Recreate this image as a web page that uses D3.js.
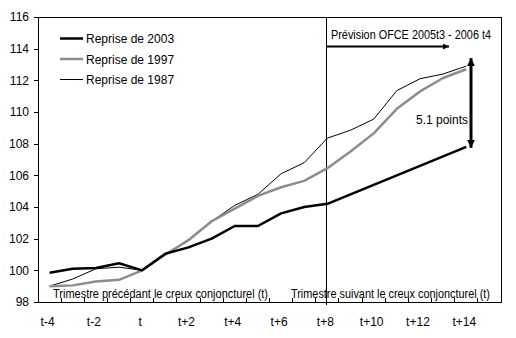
<!DOCTYPE html>
<html><head><meta charset="utf-8">
<script src="https://cdn.jsdelivr.net/npm/d3@7"></script>
<style>
body{margin:0;background:#fff;}
text{font-family:"Liberation Sans",Arial,sans-serif;font-size:12px;fill:#000;}
</style></head>
<body><svg id="c" width="516" height="338"></svg>
<script>
// ---- data ----
const categories = ["t-4","t-3","t-2","t-1","t","t+1","t+2","t+3","t+4","t+5","t+6","t+7","t+8","t+9","t+10","t+11","t+12","t+13","t+14","t+15"];
const xTickLabels = ["t-4","t-2","t","t+2","t+4","t+6","t+8","t+10","t+12","t+14"];
const yTicks = [98,100,102,104,106,108,110,112,114,116];
const seriesNames = ["Reprise de 2003","Reprise de 1997","Reprise de 1987"];
const reprise2003 = [99.85,100.1,100.15,100.45,100.0,101.05,101.45,102.0,102.8,102.8,103.6,104.0,104.2,104.8,105.4,106.0,106.6,107.2,107.8];
const reprise1997 = [99.0,99.05,99.3,99.4,100.0,101.0,101.9,103.1,103.9,104.7,105.25,105.65,106.45,107.5,108.65,110.2,111.3,112.15,112.7];
const reprise1987 = [99.0,99.45,100.1,100.2,100.0,101.0,101.95,103.1,104.1,104.8,106.1,106.8,108.35,108.85,109.55,111.35,112.1,112.4,112.9];
const forecastStart = "t+8";
const forecastLabel = "Prévision OFCE 2005t3 - 2006 t4";
const gapLabel = "5.1 points";
const beforeLabel = "Trimestre précédant le creux conjoncturel (t)";
const afterLabel = "Trimestre suivant le creux conjoncturel (t)";

// ---- layout ----
const L=38, R=501, T=17, B=302;
const svg = d3.select("#c");
const x = d3.scaleBand().domain(categories).range([L,R]).padding(0);
const cx = c => x(c) + x.bandwidth()/2;
const y = d3.scaleLinear().domain([98,116]).range([B,T]);

// defs arrowheads
const defs = svg.append("defs");
defs.append("marker").attr("id","ah").attr("viewBox","0 0 10 10").attr("refX",10).attr("refY",5)
  .attr("markerWidth",4).attr("markerHeight",3).attr("markerUnits","strokeWidth").attr("orient","auto-start-reverse")
  .append("path").attr("d","M0,0L10,5L0,10z").attr("fill","#000");
defs.append("marker").attr("id","ah2").attr("viewBox","0 0 10 10").attr("refX",10).attr("refY",5)
  .attr("markerWidth",2.6).attr("markerHeight",2.6).attr("markerUnits","strokeWidth").attr("orient","auto-start-reverse")
  .append("path").attr("d","M0,0L10,5L0,10z").attr("fill","#000");

// frame
svg.append("rect").attr("x",L).attr("y",T).attr("width",R-L).attr("height",B-T)
  .attr("fill","none").attr("stroke","#000").attr("stroke-width",1).attr("shape-rendering","crispEdges");

// y axis
const yAxis = d3.axisLeft(y).tickValues(yTicks).tickSize(4).tickPadding(6).tickFormat(d3.format("d"));
const gy = svg.append("g").attr("transform",`translate(${L},0)`).call(yAxis);
gy.select(".domain").remove();
gy.selectAll("line").attr("shape-rendering","crispEdges");
gy.selectAll("text").style("font-size","12px").style("font-family","Liberation Sans, Arial, sans-serif").attr("x",-9);

// x axis: inward ticks at band boundaries
const bounds = categories.slice(1).map(c => x(c));
svg.append("g").selectAll("line").data(bounds).join("line")
  .attr("x1",d=>d).attr("x2",d=>d).attr("y1",B).attr("y2",B-4)
  .attr("stroke","#000").attr("shape-rendering","crispEdges");
svg.append("g").selectAll("text").data(xTickLabels).join("text")
  .attr("x",d=>cx(d)-2).attr("y",326).attr("text-anchor","middle").text(d=>d);

// forecast vertical line
svg.append("line").attr("x1",cx(forecastStart)-1).attr("x2",cx(forecastStart)-1).attr("y1",T).attr("y2",B+3)
  .attr("stroke","#000").attr("shape-rendering","crispEdges");

// bottom labels
svg.append("text").attr("x",53).attr("y",298).attr("textLength",215).attr("lengthAdjust","spacingAndGlyphs").text(beforeLabel);
svg.append("text").attr("x",291).attr("y",298).attr("textLength",199).attr("lengthAdjust","spacingAndGlyphs").text(afterLabel);

// lines
const line = d3.line().x((d,i)=>cx(categories[i])).y(d=>y(d));
const styles = [
  {data:reprise2003, color:"#000", w:2.5},
  {data:reprise1997, color:"#8c8c8c", w:2.5},
  {data:reprise1987, color:"#000", w:1}
];
svg.append("g").selectAll("path").data(styles.slice().reverse()).join("path")
  .attr("d",s=>line(s.data)).attr("fill","none").attr("stroke",s=>s.color).attr("stroke-width",s=>s.w)
  .attr("stroke-linejoin","round");

// legend
const lg = svg.append("g");
styles.forEach((s,i)=>{
  const yy = 38.5 + i*20.5;
  lg.append("line").attr("x1",60).attr("x2",83).attr("y1",yy).attr("y2",yy)
    .attr("stroke",s.color).attr("stroke-width",s.w>1?2.5:1);
  lg.append("text").attr("x",86).attr("y",yy+4.5).text(seriesNames[i]);
});

// forecast annotation
svg.append("text").attr("x",331).attr("y",39).attr("textLength",160).attr("lengthAdjust","spacingAndGlyphs").text(forecastLabel);
svg.append("line").attr("x1",cx(forecastStart)-1).attr("x2",449).attr("y1",46.5).attr("y2",46.5)
  .attr("stroke","#000").attr("stroke-width",2).attr("marker-end","url(#ah)");

// gap arrow
const gx = 471;
svg.append("line").attr("x1",gx).attr("x2",gx)
  .attr("y1",y(reprise1987[reprise1987.length-1])-8).attr("y2",y(reprise2003[reprise2003.length-1])+1)
  .attr("stroke","#000").attr("stroke-width",3).attr("marker-end","url(#ah2)").attr("marker-start","url(#ah2)");
svg.append("text").attr("x",416).attr("y",124).attr("textLength",52).attr("lengthAdjust","spacingAndGlyphs").text(gapLabel);
</script>
</body></html>
